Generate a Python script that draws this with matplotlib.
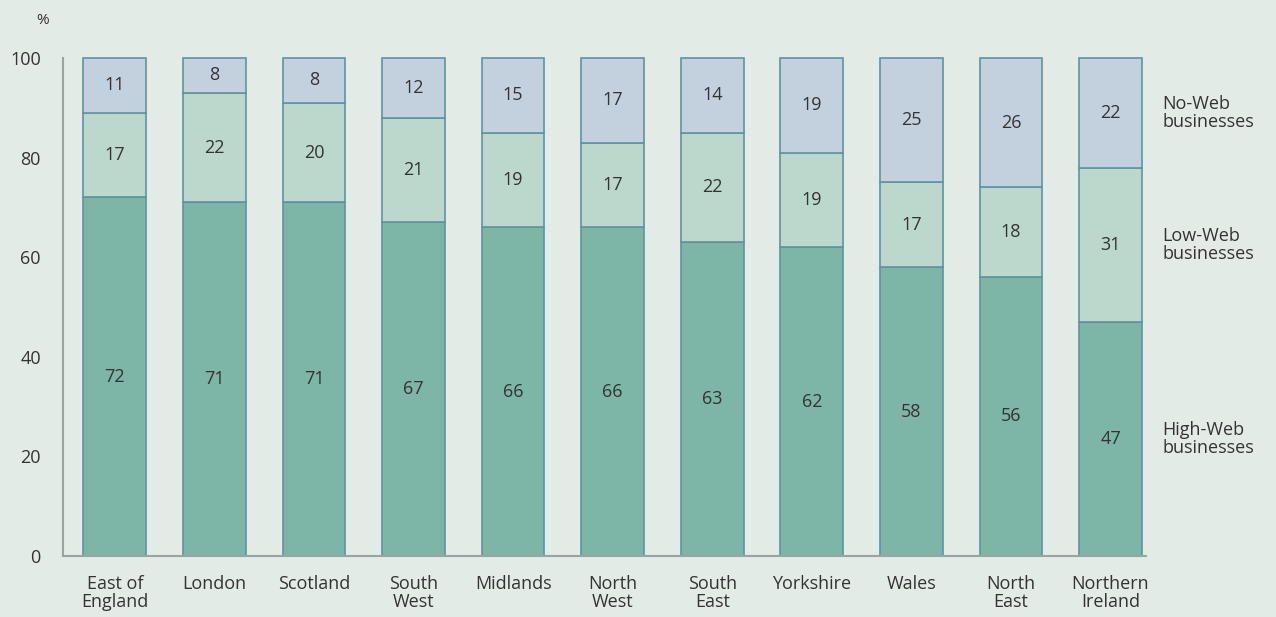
import matplotlib.pyplot as plt
import numpy as np

regions = ["East of\nEngland", "London", "Scotland", "South\nWest", "Midlands",
           "North\nWest", "South\nEast", "Yorkshire", "Wales", "North\nEast",
           "Northern\nIreland"]
high_web = [72, 71, 71, 67, 66, 66, 63, 62, 58, 56, 47]
low_web = [17, 22, 20, 21, 19, 17, 22, 19, 17, 18, 31]
no_web = [11, 8, 8, 12, 15, 17, 14, 19, 25, 26, 22]

bg = "#e3ebe7"
c_high = "#7db5a6"
c_low = "#bcd8cc"
c_no = "#c3d1df"
edge = "#5e94a0"
txt = "#333333"

plt.rcParams['font.family'] = ['Open Sans', 'DejaVu Sans']

fig = plt.figure(figsize=(12.76, 6.17), dpi=100, facecolor=bg)
ax = fig.add_axes([0.0494, 0.099, 0.849, 0.807])
ax.set_facecolor(bg)

x = np.arange(len(regions))
high = np.array(high_web)
low = np.array(low_web)
# the published stacks are scaled so every bar reaches 100
no_h = 100 - high - low

kw = dict(width=0.63, edgecolor=edge, linewidth=1.2, clip_on=False)
ax.bar(x, high, color=c_high, **kw)
ax.bar(x, low, bottom=high, color=c_low, **kw)
ax.bar(x, no_h, bottom=high + low, color=c_no, **kw)

fs = 13
for i in range(len(regions)):
    ax.text(x[i], high[i] / 2, str(high_web[i]), ha="center", va="center", fontsize=fs, color=txt)
    ax.text(x[i], high[i] + low[i] / 2, str(low_web[i]), ha="center", va="center", fontsize=fs, color=txt)
    ax.text(x[i], high[i] + low[i] + no_h[i] / 2, str(no_web[i]), ha="center", va="center", fontsize=fs, color=txt)

# series names at the right of the last bar
last = len(regions) - 1
lx = x[last] + 0.52
names = [("No-Web\nbusinesses", high[last] + low[last] + no_h[last] / 2),
         ("Low-Web\nbusinesses", high[last] + low[last] / 2),
         ("High-Web\nbusinesses", high[last] / 2)]
for name, yy in names:
    ax.text(lx, yy, name, ha="left", va="center", fontsize=fs, color=txt,
            linespacing=1.0, clip_on=False)

ax.text(-0.73, 107.5, "%", ha="center", va="center", fontsize=11, color=txt, clip_on=False)

ax.set_xlim(-0.52, 10.36)
ax.set_ylim(0, 100)
ax.set_xticks(x)
ax.set_xticklabels(regions, fontsize=fs, color=txt, linespacing=1.0)
ax.set_yticks([0, 20, 40, 60, 80, 100])
ax.tick_params(axis="both", length=0, colors=txt, labelsize=fs)
ax.tick_params(axis="y", pad=16)
ax.tick_params(axis="x", pad=14)

for s in ["top", "right"]:
    ax.spines[s].set_visible(False)
for s in ["left", "bottom"]:
    ax.spines[s].set_color("#9aa5a3")
    ax.spines[s].set_linewidth(1.5)

fig.savefig("out.png", dpi=100, facecolor=bg)
